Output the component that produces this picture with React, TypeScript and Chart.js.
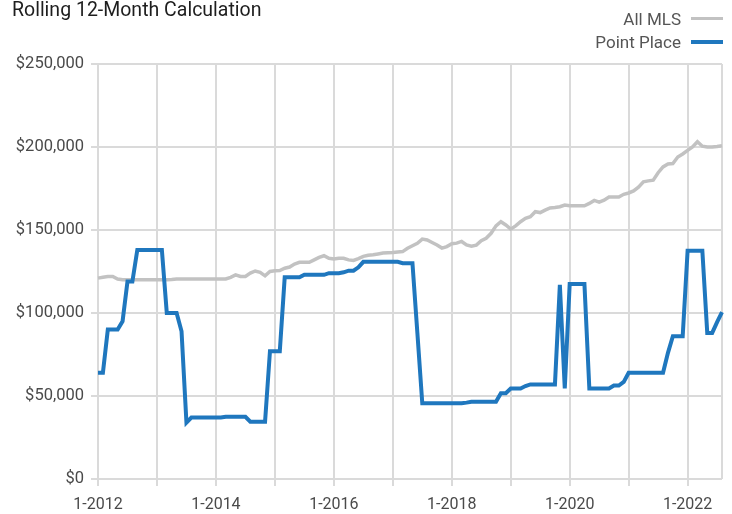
import React, { useEffect, useRef } from "react";
import { Chart, registerables } from "chart.js";

Chart.register(...registerables);

const FONT = "Roboto, 'Liberation Sans', sans-serif";

const MONTH_LABELS: string[] = [
  "1-2012","2-2012","3-2012","4-2012","5-2012","6-2012","7-2012","8-2012","9-2012","10-2012","11-2012","12-2012",
  "1-2013","2-2013","3-2013","4-2013","5-2013","6-2013","7-2013","8-2013","9-2013","10-2013","11-2013","12-2013",
  "1-2014","2-2014","3-2014","4-2014","5-2014","6-2014","7-2014","8-2014","9-2014","10-2014","11-2014","12-2014",
  "1-2015","2-2015","3-2015","4-2015","5-2015","6-2015","7-2015","8-2015","9-2015","10-2015","11-2015","12-2015",
  "1-2016","2-2016","3-2016","4-2016","5-2016","6-2016","7-2016","8-2016","9-2016","10-2016","11-2016","12-2016",
  "1-2017","2-2017","3-2017","4-2017","5-2017","6-2017","7-2017","8-2017","9-2017","10-2017","11-2017","12-2017",
  "1-2018","2-2018","3-2018","4-2018","5-2018","6-2018","7-2018","8-2018","9-2018","10-2018","11-2018","12-2018",
  "1-2019","2-2019","3-2019","4-2019","5-2019","6-2019","7-2019","8-2019","9-2019","10-2019","11-2019","12-2019",
  "1-2020","2-2020","3-2020","4-2020","5-2020","6-2020","7-2020","8-2020","9-2020","10-2020","11-2020","12-2020",
  "1-2021","2-2021","3-2021","4-2021","5-2021","6-2021","7-2021","8-2021","9-2021","10-2021","11-2021","12-2021",
  "1-2022","2-2022","3-2022","4-2022","5-2022","6-2022","7-2022","8-2022",
];

const X_TICK_LABELS: string[] = ["1-2012", "1-2014", "1-2016", "1-2018", "1-2020", "1-2022"];
const YEAR_GRID_LABELS: string[] = [
  "1-2012","1-2013","1-2014","1-2015","1-2016","1-2017","1-2018","1-2019","1-2020","1-2021","1-2022",
];

const ALL_MLS: number[] = [
  121000, 121500, 122000, 122000, 120500, 120000, 120000, 120000, 120000, 120000, 120000, 120000,
  120000, 120000, 120000, 120200, 120500, 120500, 120500, 120500, 120500, 120500, 120500, 120500,
  120500, 120500, 120500, 121500, 123000, 122000, 122000, 124000, 125300, 124500, 122400, 125000,
  125500, 125600, 127000, 127700, 129500, 130500, 130500, 130500, 132000, 133500, 134500, 133000,
  132500, 133000, 133000, 132000, 131700, 132800, 134100, 134800, 135100, 135600, 136100, 136300,
  136500, 136800, 137000, 139000, 140500, 142000, 144500, 144000, 142500, 141000, 139100, 140000,
  141700, 142100, 143100, 141000, 140300, 140900, 143500, 145000, 148000, 152500, 155000, 153000,
  150500, 152500, 155000, 157000, 158000, 161000, 160500, 162000, 163300, 163500, 164000, 165000,
  164600, 164600, 164600, 164600, 166000, 167800, 166800, 168000, 169900, 169900, 169900, 171500,
  172300, 173500, 175800, 179000, 179600, 180000, 184500, 188000, 189800, 190000, 194000, 195800,
  198000, 200000, 203200, 200500, 200000, 200000, 200300, 200800,
];

const POINT_PLACE: number[] = [
  64000, 64000, 90000, 90000, 90000, 95000, 119000, 119000, 138000, 138000, 138000, 138000,
  138000, 138000, 100000, 100000, 100000, 89000, 34000, 37000, 37000, 37000, 37000, 37000,
  37000, 37000, 37500, 37500, 37500, 37500, 37500, 34500, 34500, 34500, 34500, 77000,
  77000, 77000, 121500, 121500, 121500, 121500, 123000, 123000, 123000, 123000, 123000, 124000,
  124000, 124000, 124500, 125500, 125500, 127500, 130800, 130800, 130800, 130800, 130800, 130800,
  130800, 130800, 130000, 130000, 130000, 88000, 45600, 45600, 45600, 45600, 45600, 45600,
  45600, 45600, 45600, 46000, 46500, 46500, 46500, 46500, 46500, 46500, 51700, 51700,
  54500, 54500, 54500, 56000, 57000, 57000, 57000, 57000, 57000, 57000, 117000, 54500,
  117500, 117500, 117500, 117500, 54500, 54500, 54500, 54500, 54500, 56300, 56300, 58500,
  64000, 64000, 64000, 64000, 64000, 64000, 64000, 64000, 76000, 86000, 86000, 86000,
  137500, 137500, 137500, 137500, 88000, 88000, 94500, 100500,
];

const Y_MIN = 0;
const Y_MAX = 250000;
const Y_STEP = 50000;

const TITLE = "Rolling 12-Month Calculation";
const SERIES_NAMES = ["All MLS", "Point Place"];
const GRAY = "#c2c2c2";
const BLUE = "#1f77be";
const GRID = "#dadada";

export default function App() {
  const canvasRef = useRef<HTMLCanvasElement | null>(null);

  useEffect(() => {
    if (!canvasRef.current) return;
    const chart = new Chart(canvasRef.current, {
      type: "line",
      data: {
        labels: MONTH_LABELS,
        datasets: [
          {
            label: SERIES_NAMES[0],
            data: ALL_MLS,
            borderColor: GRAY,
            borderWidth: 3.5,
            pointRadius: 0,
            tension: 0,
            order: 1,
          },
          {
            label: SERIES_NAMES[1],
            data: POINT_PLACE,
            borderColor: BLUE,
            borderWidth: 4,
            pointRadius: 0,
            tension: 0,
            order: 0,
          },
        ],
      },
      options: {
        responsive: false,
        maintainAspectRatio: false,
        animation: false,
        layout: { padding: { top: 64, right: 10, left: 0, bottom: 0 } },
        plugins: {
          legend: { display: false },
          title: { display: false },
          tooltip: { enabled: false },
        },
        scales: {
          x: {
            type: "category",
            grid: {
              color: (ctx: any) => {
                const lbl = MONTH_LABELS[ctx.index];
                if (YEAR_GRID_LABELS.includes(lbl)) return GRID;
                if (ctx.index === MONTH_LABELS.length - 1) return GRID;
                return "rgba(0,0,0,0)";
              },
              tickColor: (ctx: any) => {
                const lbl = MONTH_LABELS[ctx.index];
                return YEAR_GRID_LABELS.includes(lbl) ? GRID : "rgba(0,0,0,0)";
              },
              lineWidth: 2,
              tickLength: 7,
            },
            border: { display: false },
            ticks: {
              autoSkip: false,
              maxRotation: 0,
              minRotation: 0,
              padding: 9,
              color: "#4a4a4a",
              font: { family: FONT, size: 16 },
              callback: (_v: any, index: number) => {
                const lbl = MONTH_LABELS[index];
                return X_TICK_LABELS.includes(lbl) ? lbl : "";
              },
            },
            afterFit: (scale: any) => {
              scale.height = 35;
            },
          },
          y: {
            min: Y_MIN,
            max: Y_MAX,
            grid: { color: GRID, lineWidth: 2, tickLength: 7 },
            border: { display: false },
            ticks: {
              stepSize: Y_STEP,
              padding: 7,
              color: "#4a4a4a",
              font: { family: FONT, size: 16.5 },
              callback: (v: any) => "$" + Number(v).toLocaleString("en-US"),
            },
            afterFit: (scale: any) => {
              scale.width = 98;
            },
          },
        },
      },
    } as any);
    return () => chart.destroy();
  }, []);

  return (
    <div style={{ position: "fixed", left: 0, top: 0, width: 732, height: 514, background: "#fff" }}>
      <canvas ref={canvasRef} width={732} height={514} style={{ width: 732, height: 514, display: "block" }} />
      <div
        style={{
          position: "absolute",
          left: 12,
          top: 0,
          fontFamily: FONT,
          fontSize: 19.5,
          lineHeight: "20px",
          color: "#1e1e1e",
          whiteSpace: "nowrap",
        }}
      >
        {TITLE}
      </div>
      <div
        style={{
          position: "absolute",
          right: 51,
          top: 9,
          fontFamily: FONT,
          fontSize: 17,
          lineHeight: "20px",
          color: "#555",
          whiteSpace: "nowrap",
          textAlign: "right",
        }}
      >
        {SERIES_NAMES[0]}
      </div>
      <div style={{ position: "absolute", left: 691, top: 17, width: 32, height: 3, background: GRAY }} />
      <div
        style={{
          position: "absolute",
          right: 51,
          top: 32,
          fontFamily: FONT,
          fontSize: 17,
          lineHeight: "20px",
          color: "#555",
          whiteSpace: "nowrap",
          textAlign: "right",
        }}
      >
        {SERIES_NAMES[1]}
      </div>
      <div style={{ position: "absolute", left: 691, top: 40, width: 32, height: 4, background: BLUE }} />
    </div>
  );
}
